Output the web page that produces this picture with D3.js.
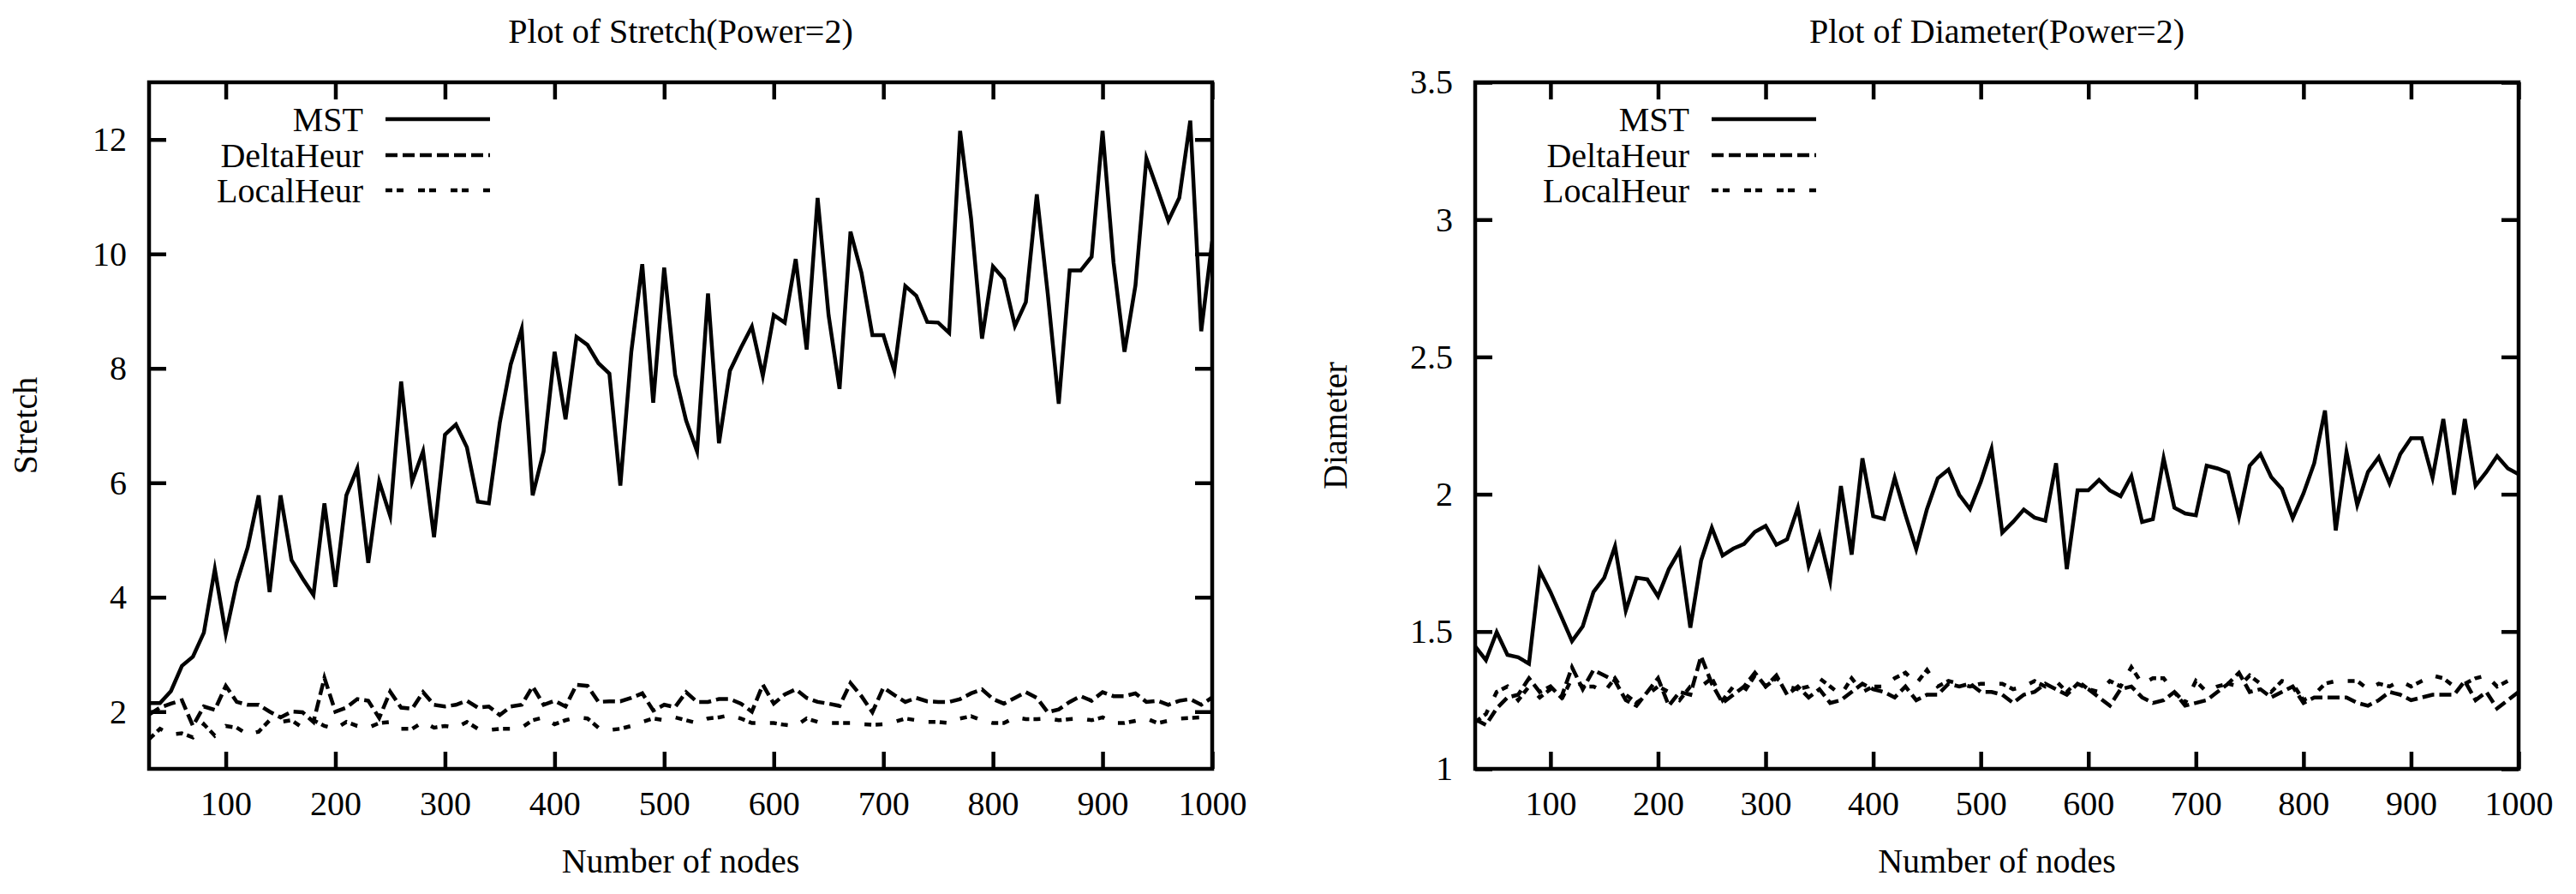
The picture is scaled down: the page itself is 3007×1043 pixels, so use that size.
<!DOCTYPE html>
<html>
<head>
<meta charset="utf-8">
<script src="https://cdn.jsdelivr.net/npm/d3@7"></script>
<style>
  html, body { margin: 0; padding: 0; background: #fff; }
  svg { display: block; }
  text { font-family: "Liberation Serif", "DejaVu Serif", serif; fill: #000; }
</style>
</head>
<body>
<svg id="chart" width="3007" height="1043"></svg>
<script>
// ---------- data ----------
const nodes = [
  30, 40, 50, 60, 70, 80, 90, 100, 110, 120,
  130, 140, 150, 160, 170, 180, 190, 200, 210, 220,
  230, 240, 250, 260, 270, 280, 290, 300, 310, 320,
  330, 340, 350, 360, 370, 380, 390, 400, 410, 420,
  430, 440, 450, 460, 470, 480, 490, 500, 510, 520,
  530, 540, 550, 560, 570, 580, 590, 600, 610, 620,
  630, 640, 650, 660, 670, 680, 690, 700, 710, 720,
  730, 740, 750, 760, 770, 780, 790, 800, 810, 820,
  830, 840, 850, 860, 870, 880, 890, 900, 910, 920,
  930, 940, 950, 960, 970, 980, 990, 1000
];

const stretchMST = [
  2.15, 2.15, 2.36, 2.8, 2.96, 3.38, 4.49, 3.36, 4.25, 4.87,
  5.78, 4.09, 5.78, 4.65, 4.33, 4.04, 5.64, 4.18, 5.78, 6.25,
  4.6, 6.02, 5.42, 7.77, 6.02, 6.55, 5.05, 6.84, 7.02, 6.62,
  5.67, 5.64, 7.05, 8.07, 8.69, 5.78, 6.55, 8.29, 7.11, 8.55,
  8.41, 8.09, 7.91, 5.95, 8.29, 9.82, 7.4, 9.76, 7.89, 7.09,
  6.55, 9.31, 6.69, 7.96, 8.36, 8.73, 7.87, 8.93, 8.8, 9.91,
  8.33, 10.98, 8.93, 7.64, 10.39, 9.67, 8.58, 8.58, 7.96, 9.44,
  9.27, 8.81, 8.8, 8.62, 12.15, 10.62, 8.52, 9.78, 9.56, 8.74,
  9.16, 11.04, 9.3, 7.38, 9.71, 9.71, 9.95, 12.15, 9.85, 8.29,
  9.45, 11.67, 11.13, 10.58, 10.98, 12.33, 8.65, 10.22
];
const stretchDelta = [
  1.95, 2.07, 2.14, 2.2, 1.75, 2.09, 2.03, 2.45, 2.17, 2.12,
  2.12, 2.0, 1.9, 2.0, 1.99, 1.82, 2.59, 2.0, 2.07, 2.22,
  2.19, 1.89, 2.35, 2.07, 2.05, 2.34, 2.12, 2.09, 2.12, 2.19,
  2.07, 2.09, 1.94, 2.09, 2.12, 2.44, 2.12, 2.19, 2.09, 2.47,
  2.45, 2.17, 2.18, 2.18, 2.24, 2.32, 2.02, 2.12, 2.08, 2.34,
  2.17, 2.17, 2.22, 2.22, 2.14, 2.0, 2.47, 2.14, 2.3, 2.39,
  2.24, 2.17, 2.14, 2.1, 2.5, 2.27, 1.99, 2.42, 2.29, 2.17,
  2.24, 2.18, 2.17, 2.17, 2.22, 2.32, 2.39, 2.22, 2.14, 2.24,
  2.34, 2.24, 1.99, 2.04, 2.17, 2.27, 2.19, 2.34, 2.27, 2.27,
  2.32, 2.17, 2.19, 2.12, 2.19, 2.22, 2.12, 2.25
];
const stretchLocal = [
  1.52, 1.7, 1.6, 1.62, 1.55, 1.78, 1.58, 1.75, 1.72, 1.6,
  1.65, 1.85, 1.82, 1.85, 1.72, 1.85, 1.75, 1.7, 1.82, 1.75,
  1.72, 1.8, 1.82, 1.7, 1.7, 1.82, 1.72, 1.75, 1.72, 1.82,
  1.7, 1.68, 1.7, 1.7, 1.72, 1.85, 1.9, 1.78, 1.85, 1.9,
  1.88, 1.72, 1.68, 1.7, 1.75, 1.82, 1.88, 1.85, 1.9, 1.85,
  1.8, 1.88, 1.9, 1.94, 1.88, 1.8, 1.8, 1.8, 1.77, 1.75,
  1.88, 1.82, 1.8, 1.8, 1.8, 1.78, 1.77, 1.78, 1.82, 1.88,
  1.85, 1.82, 1.82, 1.8, 1.88, 1.92, 1.85, 1.8, 1.8, 1.9,
  1.87, 1.87, 1.88, 1.85, 1.87, 1.88, 1.85, 1.9, 1.8, 1.8,
  1.84, 1.88, 1.8, 1.84, 1.88, 1.89, 1.9, 1.88
];

const diamMST = [
  1.446, 1.396, 1.498, 1.415, 1.406, 1.383, 1.722, 1.644, 1.555, 1.465,
  1.519, 1.644, 1.696, 1.81, 1.576, 1.696, 1.69, 1.628, 1.727, 1.795,
  1.514, 1.758, 1.878, 1.777, 1.802, 1.819, 1.863, 1.885, 1.816, 1.836,
  1.951, 1.74, 1.852, 1.685, 2.03, 1.78, 2.131, 1.92, 1.91, 2.06,
  1.925, 1.8, 1.946, 2.058, 2.09, 1.998, 1.946, 2.045, 2.165, 1.86,
  1.899, 1.944, 1.915, 1.904, 2.113, 1.727, 2.014, 2.014, 2.052, 2.014,
  1.993, 2.066, 1.899, 1.909, 2.131, 1.951, 1.93, 1.923, 2.104, 2.094,
  2.079, 1.917, 2.104, 2.146, 2.063, 2.019, 1.913, 2.003, 2.113, 2.305,
  1.868, 2.154, 1.961, 2.081, 2.135, 2.04, 2.146, 2.204, 2.204, 2.06,
  2.274, 1.998, 2.274, 2.031, 2.081, 2.139, 2.094, 2.073
];
const diamDelta = [
  1.18, 1.16, 1.22, 1.26, 1.27, 1.33, 1.28, 1.3, 1.26, 1.37,
  1.29, 1.36, 1.34, 1.32, 1.25, 1.23, 1.28, 1.33, 1.23, 1.28,
  1.27, 1.41, 1.31, 1.24, 1.27, 1.3, 1.35, 1.3, 1.34, 1.27,
  1.3, 1.26, 1.29, 1.24, 1.25, 1.28, 1.31, 1.29, 1.28, 1.26,
  1.3, 1.25, 1.27, 1.27, 1.31, 1.3, 1.31, 1.28, 1.28, 1.27,
  1.24, 1.27, 1.28, 1.31, 1.29, 1.27, 1.31, 1.29, 1.26, 1.23,
  1.29, 1.3, 1.26, 1.24, 1.25, 1.28, 1.23, 1.24, 1.25, 1.28,
  1.31, 1.35, 1.28, 1.29, 1.26, 1.28, 1.3, 1.24, 1.26, 1.26,
  1.26, 1.26, 1.24, 1.23, 1.25, 1.28, 1.27, 1.25, 1.26, 1.27,
  1.27, 1.27, 1.32, 1.25, 1.28, 1.22, 1.25, 1.28
];
const diamLocal = [
  1.17, 1.2, 1.28, 1.3, 1.25, 1.3, 1.26, 1.29, 1.25, 1.33,
  1.3, 1.3, 1.28, 1.33, 1.27, 1.24, 1.27, 1.3, 1.28, 1.25,
  1.3, 1.3, 1.33, 1.25, 1.3, 1.28, 1.34, 1.3, 1.33, 1.3,
  1.29, 1.3, 1.33, 1.3, 1.27, 1.33, 1.28, 1.3, 1.3, 1.33,
  1.35, 1.31, 1.36, 1.3, 1.32, 1.31, 1.3, 1.31, 1.31, 1.31,
  1.29, 1.3, 1.32, 1.3, 1.32, 1.28, 1.32, 1.29, 1.28, 1.32,
  1.3, 1.37, 1.31, 1.33, 1.33, 1.28, 1.24, 1.32, 1.28, 1.3,
  1.31, 1.3, 1.34, 1.31, 1.28, 1.32, 1.31, 1.25, 1.27, 1.31,
  1.32, 1.32, 1.32, 1.29, 1.31, 1.3, 1.32, 1.3, 1.32, 1.34,
  1.33, 1.3, 1.31, 1.33, 1.34, 1.3, 1.32, 1.33
];

const xTicks = [100, 200, 300, 400, 500, 600, 700, 800, 900, 1000];
const stretchTicks = [2, 4, 6, 8, 10, 12];
const diamTicks = [1, 1.5, 2, 2.5, 3, 3.5];
const seriesNames = ["MST", "DeltaHeur", "LocalHeur"];

// ---------- drawing ----------
const svg = d3.select("#chart");
svg.append("rect").attr("width", 3007).attr("height", 1043).attr("fill", "#fff");

const FONT = 40;
const LW = 4.5;
const dashes = [null, "14,6", "8,5,8,17"];

function drawChart(cfg, idx) {
  const { L, R, T, B } = cfg;
  const x = d3.scaleLinear().domain([30, 1000]).range([L, R]);
  const y = d3.scaleLinear().domain(cfg.yDomain).range([B, T]);
  const g = svg.append("g");

  const clipId = "clip" + idx;
  svg.append("defs").append("clipPath").attr("id", clipId)
    .append("rect").attr("x", L).attr("y", T).attr("width", R - L).attr("height", B - T);

  // data lines
  const line = d3.line().x((d, i) => x(nodes[i])).y(d => y(d));
  cfg.series.forEach((s, k) => {
    g.append("path")
      .attr("clip-path", `url(#${clipId})`)
      .attr("d", line(s))
      .attr("fill", "none")
      .attr("stroke", "#000")
      .attr("stroke-width", LW)
      .attr("stroke-linejoin", "miter")
      .attr("stroke-miterlimit", 6)
      .attr("stroke-dasharray", dashes[k]);
  });

  // axes (ticks inward, mirrored)
  function styleAxis(sel) {
    sel.select(".domain").remove();
    sel.selectAll(".tick line").attr("stroke", "#000").attr("stroke-width", LW);
    sel.selectAll(".tick text")
      .style("font-family", '"Liberation Serif", serif')
      .style("font-size", FONT + "px")
      .attr("fill", "#000");
  }
  g.append("g").attr("transform", `translate(0,${B})`)
    .call(d3.axisBottom(x).tickValues(xTicks).tickSize(-20).tickPadding(26).tickFormat(d3.format("d")))
    .call(styleAxis);
  g.append("g").attr("transform", `translate(0,${T})`)
    .call(d3.axisTop(x).tickValues(xTicks).tickSize(-20).tickFormat(""))
    .call(styleAxis);
  g.append("g").attr("transform", `translate(${L},0)`)
    .call(d3.axisLeft(y).tickValues(cfg.yTicks).tickSize(-20).tickPadding(26).tickFormat(d => String(d)))
    .call(styleAxis);
  g.append("g").attr("transform", `translate(${R},0)`)
    .call(d3.axisRight(y).tickValues(cfg.yTicks).tickSize(-20).tickFormat(""))
    .call(styleAxis);

  // frame
  g.append("rect")
    .attr("x", L).attr("y", T).attr("width", R - L).attr("height", B - T)
    .attr("fill", "none").attr("stroke", "#000").attr("stroke-width", LW);

  // title and labels
  g.append("text").attr("x", (L + R) / 2).attr("y", 50)
    .attr("text-anchor", "middle").style("font-size", FONT + "px").text(cfg.title);
  g.append("text").attr("x", (L + R) / 2).attr("y", 1018)
    .attr("text-anchor", "middle").style("font-size", FONT + "px").text("Number of nodes");
  g.append("text")
    .attr("transform", `translate(${cfg.yLabelX},${(T + B) / 2}) rotate(-90)`)
    .attr("text-anchor", "middle").style("font-size", FONT + "px").text(cfg.yLabel);

  // legend
  const rowsY = [T + 43, T + 85, T + 126];
  seriesNames.forEach((name, k) => {
    g.append("text").attr("x", L + 250).attr("y", rowsY[k]).attr("dy", "0.34em")
      .attr("text-anchor", "end").style("font-size", FONT + "px").text(name);
    g.append("line")
      .attr("x1", L + 276).attr("x2", L + 398)
      .attr("y1", rowsY[k]).attr("y2", rowsY[k])
      .attr("stroke", "#000").attr("stroke-width", LW)
      .attr("stroke-dasharray", dashes[k]);
  });
}

drawChart({
  L: 174, R: 1415, T: 96, B: 897,
  yDomain: [1, 13], yTicks: stretchTicks,
  title: "Plot of Stretch(Power=2)", yLabel: "Stretch", yLabelX: 43,
  series: [stretchMST, stretchDelta, stretchLocal]
}, 0);

drawChart({
  L: 1722, R: 2940, T: 96, B: 897,
  yDomain: [1, 3.5], yTicks: diamTicks,
  title: "Plot of Diameter(Power=2)", yLabel: "Diameter", yLabelX: 1572,
  series: [diamMST, diamDelta, diamLocal]
}, 1);
</script>
</body>
</html>
